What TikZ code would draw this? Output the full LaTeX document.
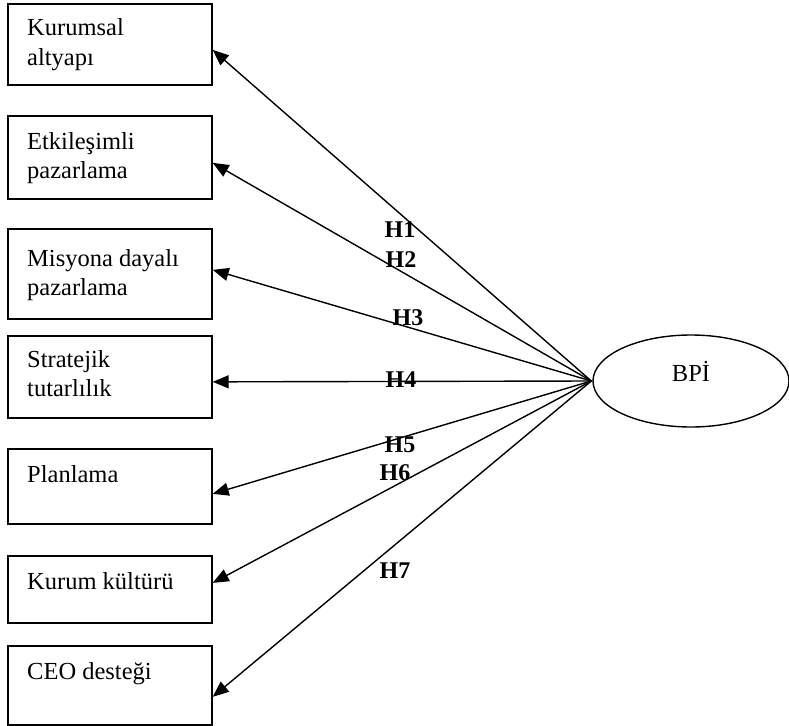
\documentclass[tikz,border=0pt]{standalone}
\usepackage{fontspec}
\setmainfont{Liberation Serif}
\usetikzlibrary{shapes.geometric,arrows.meta}
\begin{document}
\begin{tikzpicture}[x=1pt,y=-1pt,
  box/.style={draw, line width=1.7pt, rectangle, minimum width=204pt,
    inner sep=0pt, anchor=north west},
  boxtext/.style={anchor=base west, align=left, inner sep=0pt,
    font=\fontsize{24.5}{29}\selectfont},
  arr/.style={line width=1.4pt, -{Triangle[length=16pt,width=13pt]}},
  hyp/.style={font=\fontsize{24}{24}\selectfont\bfseries, anchor=base, inner sep=0pt}]
\useasboundingbox (0,0) rectangle (789,725);

% factor boxes
\node[box, minimum height=81pt] (b1) at (7,3) {};
\node[box, minimum height=83pt] (b2) at (7,115) {};
\node[box, minimum height=90pt] (b3) at (7,228) {};
\node[box, minimum height=82pt] (b4) at (7,335) {};
\node[box, minimum height=75pt] (b5) at (7,448) {};
\node[box, minimum height=67pt] (b6) at (7,555) {};
\node[box, minimum height=79pt] (b7) at (7,645) {};

% box captions (anchored at the baseline of the last line)
\node[boxtext] (t1) at (27,65) {Kurumsal\\altyapı};
\node[boxtext] (t2) at (27,178) {Etkileşimli\\pazarlama};
\node[boxtext] (t3) at (27,295) {Misyona dayalı\\pazarlama};
\node[boxtext] (t4) at (27,396) {Stratejik\\tutarlılık};
\node[boxtext] (t5) at (27,482) {Planlama};
\node[boxtext] (t6) at (27,589) {Kurum kültürü};
\node[boxtext] (t7) at (27,679) {CEO desteği};

% outcome ellipse
\node[draw, ellipse, line width=1.4pt, minimum width=196pt, minimum height=92pt,
  inner sep=0pt, text height=9pt, text depth=9pt,
  font=\fontsize{24.5}{24}\selectfont] (bpi) at (691,381) {BPİ};
\coordinate (hub) at ([xshift=-1pt]bpi.west);

% hypothesis paths
\draw[arr] (hub) -- ([yshift=-5.5pt]b1.east);
\draw[arr] (hub) -- ([yshift=-5.5pt]b2.east);
\draw[arr] (hub) -- ([yshift=4pt]b3.east);
\draw[arr] (hub) -- ([yshift=-5pt]b4.east);
\draw[arr] (hub) -- ([yshift=-7.5pt]b5.east);
\draw[arr] (hub) -- ([yshift=6.5pt]b6.east);
\draw[arr] (hub) -- ([yshift=-11.5pt]b7.east);

% hypothesis labels
\node[hyp] (h1) at (400,237) {H1};
\node[hyp] (h2) at (401,267) {H2};
\node[hyp] (h3) at (408,325) {H3};
\node[hyp] (h4) at (401,387) {H4};
\node[hyp] (h5) at (400,452) {H5};
\node[hyp] (h6) at (395,480) {H6};
\node[hyp] (h7) at (395,578) {H7};
\end{tikzpicture}
\end{document}
